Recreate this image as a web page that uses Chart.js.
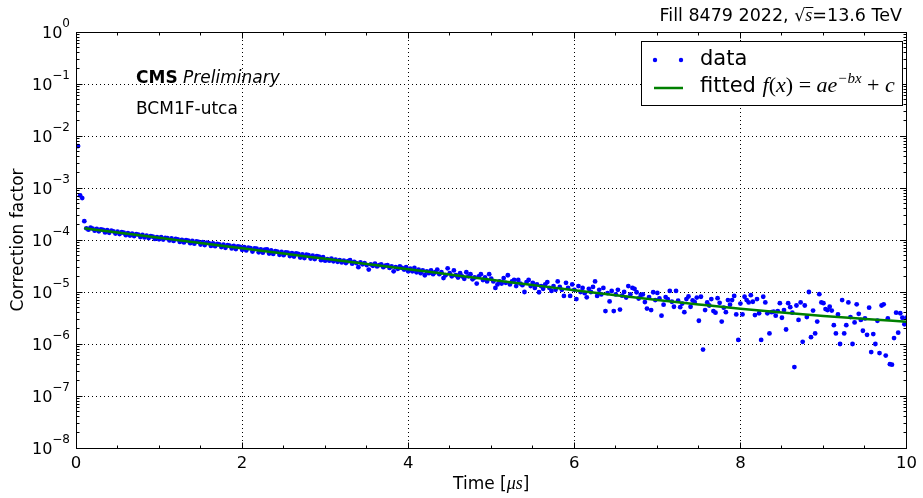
<!DOCTYPE html>
<html>
<head>
<meta charset="utf-8">
<script src="https://cdn.jsdelivr.net/npm/chart.js@4.4.1/dist/chart.umd.min.js"></script>
<style>
  html, body { margin: 0; padding: 0; background: #fff; }
</style>
</head>
<body>
<canvas id="decayChart" width="923" height="498"></canvas>
<script>
// bunch slots are 25 ns apart, the first one sits at 25 ns
const firstTime = 0.025;
const timeStep = 0.025;

// correction factor per slot (one row per microsecond)
const correction = [
  6.4e-3, 7.2e-4, 6.4e-4, 2.3e-4, 1.68e-4, 1.58e-4, 1.72e-4, 1.66e-4, 1.51e-4, 1.63e-4,
  1.47e-4, 1.60e-4, 1.56e-4, 1.40e-4, 1.55e-4, 1.38e-4, 1.51e-4, 1.47e-4, 1.33e-4, 1.44e-4,
  1.30e-4, 1.41e-4, 1.38e-4, 1.24e-4, 1.36e-4, 1.22e-4, 1.33e-4, 1.19e-4, 1.30e-4, 1.27e-4,
  1.14e-4, 1.25e-4, 1.12e-4, 1.21e-4, 1.09e-4, 1.19e-4, 1.16e-4, 1.05e-4, 1.14e-4, 1.03e-4,

  1.13e-4, 1.02e-4, 1.10e-4, 1.08e-4, 9.8e-5, 1.07e-4, 9.6e-5, 1.05e-4, 1.03e-4, 9.2e-5,
  1.01e-4, 9.0e-5, 9.9e-5, 9.7e-5, 8.7e-5, 9.6e-5, 8.5e-5, 9.4e-5, 9.2e-5, 8.2e-5,
  9.1e-5, 8.0e-5, 8.9e-5, 8.7e-5, 7.7e-5, 8.6e-5, 7.6e-5, 8.4e-5, 8.2e-5, 7.3e-5,
  8.1e-5, 7.1e-5, 8.0e-5, 7.8e-5, 6.9e-5, 7.7e-5, 6.7e-5, 7.5e-5, 7.4e-5, 6.5e-5,

  7.3e-5, 6.3e-5, 7.1e-5, 7.0e-5, 6.0e-5, 6.9e-5, 6.8e-5, 5.8e-5, 6.6e-5, 5.7e-5,
  6.5e-5, 6.6e-5, 5.5e-5, 6.3e-5, 5.4e-5, 6.1e-5, 6.0e-5, 5.2e-5, 5.9e-5, 5.1e-5,
  5.8e-5, 5.7e-5, 4.9e-5, 5.6e-5, 4.8e-5, 5.5e-5, 5.4e-5, 4.6e-5, 5.3e-5, 4.5e-5,
  5.2e-5, 5.1e-5, 4.4e-5, 5.0e-5, 4.3e-5, 4.9e-5, 4.8e-5, 4.1e-5, 4.7e-5, 4.0e-5,

  4.3e-5, 4.0e-5, 4.4e-5, 3.9e-5, 4.2e-5, 3.8e-5, 4.1e-5, 3.7e-5, 4.0e-5, 3.6e-5,
  3.9e-5, 4.1e-5, 3.5e-5, 3.8e-5, 3.6e-5, 3.0e-5, 3.7e-5, 3.4e-5, 3.6e-5, 3.3e-5,
  2.7e-5, 3.4e-5, 3.2e-5, 3.5e-5, 3.1e-5, 3.3e-5, 3.4e-5, 3.0e-5, 3.2e-5, 3.3e-5,
  2.9e-5, 3.1e-5, 2.5e-5, 3.0e-5, 2.8e-5, 3.1e-5, 2.9e-5, 2.7e-5, 3.0e-5, 2.5e-5,

  2.8e-5, 2.5e-5, 2.9e-5, 2.4e-5, 2.7e-5, 2.3e-5, 2.6e-5, 2.1e-5, 2.5e-5, 2.3e-5,
  2.6e-5, 2.2e-5, 2.4e-5, 2.7e-5, 2.2e-5, 2.4e-5, 1.85e-5, 2.1e-5, 2.85e-5, 2.3e-5,
  2.0e-5, 2.6e-5, 2.1e-5, 1.9e-5, 2.3e-5, 2.0e-5, 1.8e-5, 2.4e-5, 2.0e-5, 2.2e-5,
  1.75e-5, 1.9e-5, 1.45e-5, 2.0e-5, 2.2e-5, 1.7e-5, 1.9e-5, 1.6e-5, 2.2e-5, 1.8e-5,

  1.6e-5, 1.2e-5, 1.4e-5, 1.6e-5, 1.45e-5, 1.85e-5, 1.5e-5, 2.1e-5, 1.4e-5, 1.6e-5,
  1.7e-5, 1.3e-5, 1.7e-5, 1.45e-5, 1.35e-5, 1.0e-5, 1.55e-5, 1.7e-5, 1.3e-5, 1.5e-5,
  1.2e-5, 1.4e-5, 9.9e-6, 1.3e-5, 1.15e-5, 1.4e-5, 1.55e-5, 1.2e-5, 1.05e-5, 1.3e-5,
  1.1e-5, 1.6e-5, 1.25e-5, 1.1e-5, 8.4e-6, 1.5e-5, 1.2e-5, 8.4e-6, 1.4e-5, 1.1e-5,

  7.3e-6, 1.3e-5, 1.0e-5, 1.2e-5, 9.5e-6, 7.9e-6, 1.15e-5, 1.0e-5, 1.25e-5, 1.6e-5,
  8.4e-6, 1.1e-5, 9.0e-6, 1.2e-5, 4.3e-6, 9.5e-6, 6.6e-6, 1.05e-5, 4.3e-6, 9.0e-6,
  1.1e-5, 4.6e-6, 8.5e-6, 1.0e-5, 7.8e-6, 1.3e-5, 9.0e-6, 1.2e-5, 1.15e-5, 9.9e-6,
  7.5e-6, 8.8e-6, 9.0e-6, 6.4e-6, 4.8e-6, 8.0e-6, 4.5e-6, 9.9e-6, 7.0e-6, 9.6e-6,

  7.5e-6, 3.5e-6, 5.7e-6, 8.0e-6, 7.3e-6, 1.05e-5, 6.5e-6, 5.2e-6, 1.05e-5, 6.8e-6,
  5.1e-6, 6.0e-6, 4.1e-6, 7.3e-6, 8.2e-6, 5.2e-6, 6.9e-6, 6.4e-6, 7.8e-6, 2.8e-6,
  8.1e-6, 7.8e-7, 4.5e-6, 6.3e-6, 5.5e-6, 7.3e-6, 4.3e-6, 4.0e-6, 7.6e-6, 6.2e-6,
  2.7e-6, 5.0e-6, 4.1e-6, 7.0e-6, 5.7e-6, 7.0e-6, 8.4e-6, 3.7e-6, 1.2e-6, 6.0e-6,

  3.7e-6, 8.1e-6, 7.0e-6, 6.3e-6, 8.7e-6, 6.5e-6, 3.6e-6, 7.3e-6, 3.9e-6, 1.2e-6,
  8.1e-6, 6.3e-6, 3.9e-6, 1.6e-6, 4.1e-6, 4.2e-6, 3.5e-6, 4.3e-6, 6.1e-6, 3.2e-6,
  4.5e-6, 1.9e-6, 6.1e-6, 5.1e-6, 4.0e-6, 3.6e-7, 5.5e-6, 2.9e-6, 6.3e-6, 1.1e-6,
  5.5e-6, 3.3e-6, 1.0e-5, 1.35e-6, 4.4e-6, 1.6e-6, 2.7e-6, 9.1e-6, 6.3e-6, 6.1e-6,

  4.7e-6, 4.5e-6, 5.2e-6, 4.4e-6, 2.3e-6, 1.6e-6, 3.7e-6, 1.0e-6, 7.0e-6, 1.6e-6,
  2.3e-6, 6.3e-6, 3.3e-6, 1.0e-6, 2.6e-6, 5.8e-6, 3.8e-6, 2.9e-6, 1.8e-6, 3.1e-6,
  1.5e-6, 5.0e-6, 7.0e-7, 1.55e-6, 1.0e-6, 2.8e-6, 6.7e-7, 5.5e-6, 5.8e-6, 6.0e-7,
  3.1e-6, 4.1e-7, 4.0e-7, 1.3e-6, 4.0e-6, 1.65e-6, 3.9e-6, 3.2e-6, 2.4e-6, 3.2e-6
];

// fitted curve
const fitTime = [0.1, 0.5, 1, 1.5, 2, 2.5, 3, 3.5, 4, 4.5, 5, 5.5, 6, 6.5, 7, 7.5, 8, 8.5, 9, 9.5, 10];
const fitValue = [1.68e-4, 1.39e-4, 1.10e-4, 8.75e-5, 6.92e-5, 5.50e-5, 4.35e-5, 3.45e-5, 2.74e-5, 2.17e-5,
  1.72e-5, 1.36e-5, 1.08e-5, 8.67e-6, 7.01e-6, 5.75e-6, 4.75e-6, 4.02e-6, 3.45e-6, 3.03e-6, 2.69e-6];

const xTicks = [0, 2, 4, 6, 8, 10];
const yDecades = [1, 1e-1, 1e-2, 1e-3, 1e-4, 1e-5, 1e-6, 1e-7, 1e-8];
const yExponents = ['0', '\u22121', '\u22122', '\u22123', '\u22124', '\u22125', '\u22126', '\u22127', '\u22128'];

const SANS = '"DejaVu Sans", sans-serif';
const MATH = '"Liberation Serif", serif';

const dataPoints = correction.map((v, i) => ({ x: firstTime + i * timeStep, y: v }));
const fitPoints = fitTime.map((t, i) => ({ x: t, y: fitValue[i] }));

function align(p) {
  return Math.round(p - 0.5) + 0.5;
}

// draws text pieces one after another, returns the x where it ended
function drawRuns(ctx, runs, x, y, where) {
  let total = 0;
  runs.forEach(r => {
    ctx.font = r.font;
    r.w = ctx.measureText(r.text).width;
    total += r.w;
  });
  let cx = where === 'right' ? x - total : where === 'center' ? x - total / 2 : x;
  runs.forEach(r => {
    ctx.font = r.font;
    ctx.fillText(r.text, cx, y - (r.rise || 0));
    if (r.bar) {
      ctx.fillRect(cx, y - r.bar, r.w + 1, 1);
    }
    cx += r.w;
  });
  return cx;
}

const decorations = {
  id: 'decorations',
  afterDraw(chart) {
    const { ctx, chartArea: area } = chart;
    const xs = chart.scales.x;
    const ys = chart.scales.y;
    const L = align(area.left), R = align(area.right);
    const T = align(area.top), B = align(area.bottom);

    ctx.save();
    ctx.strokeStyle = '#000';
    ctx.fillStyle = '#000';
    ctx.lineWidth = 1;

    // ticks on all four sides, pointing in
    ctx.beginPath();
    yDecades.forEach(v => {
      const p = align(ys.getPixelForValue(v));
      ctx.moveTo(L, p); ctx.lineTo(L + 6, p);
      ctx.moveTo(R, p); ctx.lineTo(R - 6, p);
      if (v > 1e-8) {
        for (let m = 2; m <= 9; m++) {
          const q = align(ys.getPixelForValue(m * v / 10));
          ctx.moveTo(L, q); ctx.lineTo(L + 3, q);
          ctx.moveTo(R, q); ctx.lineTo(R - 3, q);
        }
      }
    });
    for (let t = 0; t <= 10; t += 0.5) {
      const p = align(xs.getPixelForValue(t));
      const len = t % 2 === 0 ? 6 : 3;
      ctx.moveTo(p, B); ctx.lineTo(p, B - len);
      ctx.moveTo(p, T); ctx.lineTo(p, T + len);
    }
    ctx.stroke();
    ctx.strokeRect(L, T, R - L, B - T);

    // y tick labels 10^n
    ctx.textAlign = 'left';
    ctx.textBaseline = 'alphabetic';
    yDecades.forEach((v, i) => {
      const p = ys.getPixelForValue(v);
      ctx.font = '12px ' + SANS;
      const ew = ctx.measureText(yExponents[i]).width;
      ctx.font = '16px ' + SANS;
      const bw = ctx.measureText('10').width;
      const right = 70;
      ctx.fillText('10', right - ew - bw, p + 5.5);
      ctx.font = '12px ' + SANS;
      ctx.fillText(yExponents[i], right - ew, p - 5);
    });

    // axis titles
    drawRuns(ctx, [
      { text: 'Time [', font: '17px ' + SANS },
      { text: '\u03bcs', font: 'italic 18px ' + MATH },
      { text: ']', font: '17px ' + SANS }
    ], (area.left + area.right) / 2, 489, 'center');

    ctx.save();
    ctx.translate(23, (area.top + area.bottom) / 2);
    ctx.rotate(-Math.PI / 2);
    ctx.textAlign = 'center';
    ctx.font = '17px ' + SANS;
    ctx.fillText('Correction factor', 0, 0);
    ctx.restore();

    // header text
    drawRuns(ctx, [
      { text: 'Fill 8479 2022, ', font: '17.5px ' + SANS },
      { text: '\u221a', font: '17.5px ' + SANS },
      { text: 's', font: 'italic 18px ' + MATH, bar: 14 },
      { text: '=13.6 TeV', font: '17.5px ' + SANS }
    ], 902, 21, 'right');

    drawRuns(ctx, [
      { text: 'CMS', font: 'bold 17px ' + SANS },
      { text: ' Preliminary', font: 'italic 17px ' + SANS }
    ], 136, 83, 'left');
    ctx.font = '17px ' + SANS;
    ctx.fillText('BCM1F-utca', 136, 114);

    // legend
    ctx.fillStyle = '#fff';
    ctx.fillRect(641.5, 41.5, 261, 64);
    ctx.strokeRect(641.5, 41.5, 261, 64);
    ctx.fillStyle = '#0000ff';
    [655, 681].forEach(cx => {
      ctx.beginPath();
      ctx.arc(cx, 60, 2.2, 0, Math.PI * 2);
      ctx.fill();
    });
    ctx.strokeStyle = '#008000';
    ctx.lineWidth = 2.5;
    ctx.beginPath();
    ctx.moveTo(654, 88);
    ctx.lineTo(683, 88);
    ctx.stroke();

    ctx.fillStyle = '#000';
    ctx.font = '21px ' + SANS;
    ctx.fillText('data', 700, 65);
    const m = 'italic 22px ' + MATH;
    const u = '22px ' + MATH;
    drawRuns(ctx, [
      { text: 'fitted ', font: '21px ' + SANS },
      { text: 'f', font: m },
      { text: '(', font: u },
      { text: 'x', font: m },
      { text: ') = ', font: u },
      { text: 'ae', font: m },
      { text: '\u2212bx', font: 'italic 15px ' + MATH, rise: 9 },
      { text: ' + ', font: u },
      { text: 'c', font: m }
    ], 700, 92, 'left');

    ctx.restore();
  }
};

new Chart(document.getElementById('decayChart'), {
  type: 'scatter',
  data: {
    datasets: [
      {
        label: 'fitted',
        data: fitPoints,
        showLine: true,
        borderColor: '#008000',
        borderWidth: 2.5,
        pointRadius: 0,
        cubicInterpolationMode: 'monotone',
        order: 0
      },
      {
        label: 'data',
        data: dataPoints,
        showLine: false,
        pointRadius: 2.4,
        pointBorderWidth: 0,
        pointBackgroundColor: '#0000ff',
        pointBorderColor: '#0000ff',
        order: 1
      }
    ]
  },
  options: {
    responsive: false,
    animation: false,
    events: [],
    layout: { padding: { top: 32, right: 12, left: 0, bottom: 0 } },
    plugins: { legend: { display: false }, tooltip: { enabled: false } },
    scales: {
      x: {
        type: 'linear',
        min: 0,
        max: 10,
        afterBuildTicks: s => { s.ticks = xTicks.map(v => ({ value: v })); },
        afterFit: s => { s.height = 50; },
        grid: { color: '#000', lineWidth: 1, drawTicks: false },
        border: { display: false, dash: [1, 3] },
        ticks: {
          color: '#000',
          padding: 6,
          maxRotation: 0,
          font: { family: 'DejaVu Sans', size: 16.5 }
        }
      },
      y: {
        type: 'logarithmic',
        min: 1e-8,
        max: 1,
        afterBuildTicks: s => { s.ticks = yDecades.map(v => ({ value: v })); },
        afterFit: s => { s.width = 76; },
        grid: { color: '#000', lineWidth: 1, drawTicks: false },
        border: { display: false, dash: [1, 3] },
        ticks: { display: false }
      }
    }
  },
  plugins: [decorations]
});
</script>
</body>
</html>
